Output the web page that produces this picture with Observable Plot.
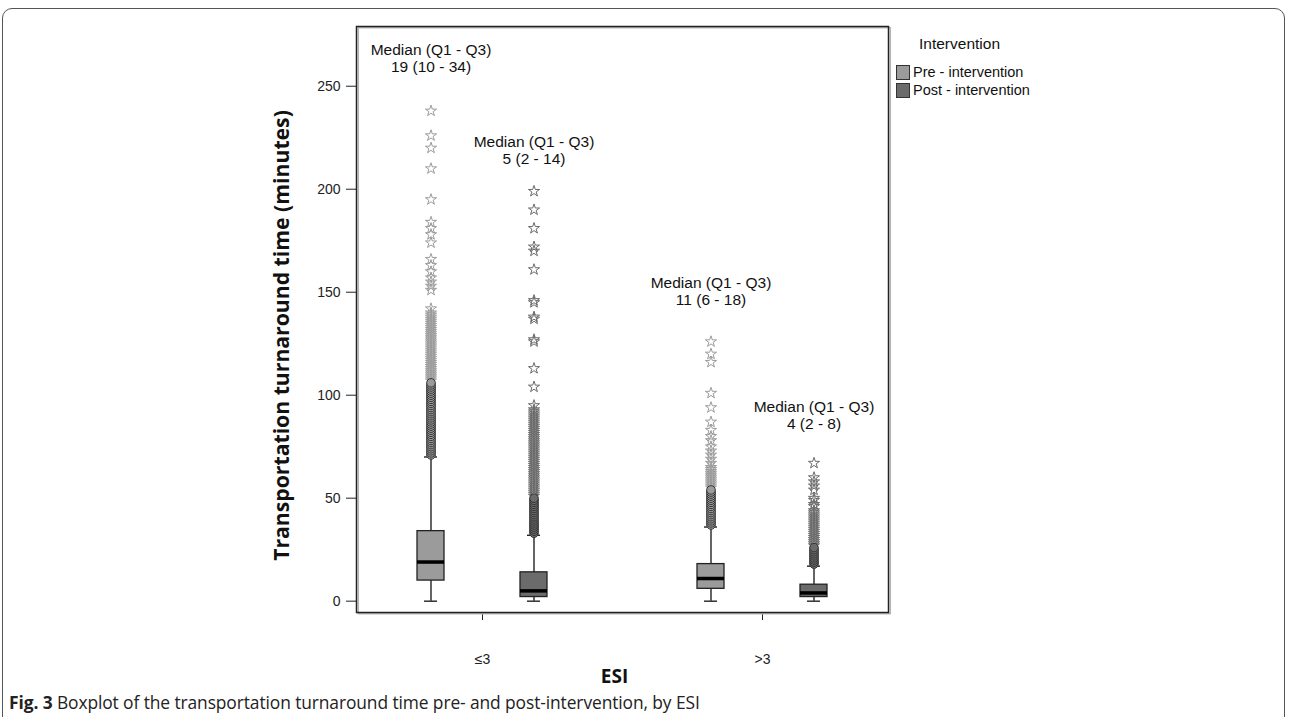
<!DOCTYPE html>
<html><head><meta charset="utf-8">
<script src="https://cdn.jsdelivr.net/npm/d3@7"></script>
<script src="https://cdn.jsdelivr.net/npm/@observablehq/plot@0.6"></script>
<style>
body{margin:0;background:#fff;width:1290px;height:717px;position:relative;overflow:hidden;font-family:"Liberation Sans",Arial,sans-serif}
#card{position:absolute;left:2px;top:8px;width:1283px;height:740px;border:1.5px solid #555;border-radius:10px;box-sizing:border-box}
#chart{position:absolute;left:0;top:0}
#legend{position:absolute;left:896px;top:35px;color:#111;font-size:14.5px;line-height:18px}
#legend .title{font-size:15.5px;margin-left:23px;margin-bottom:10px}
#legend .item{display:flex;align-items:center;height:18px}
#legend .sw{width:12px;height:13px;border:1px solid #333;margin-right:3px}
#caption{position:absolute;left:9px;top:692px;font-family:"Open Sans",sans-serif;font-size:17.4px;line-height:20px;color:#222;white-space:nowrap;letter-spacing:-0.1px}
</style></head><body>
<div id="card"></div>
<div id="chart"></div>
<div id="legend"></div>
<div id="caption"><b>Fig. 3</b> Boxplot of the transportation turnaround time pre- and post-intervention, by ESI</div>
<script>
const esiGroups = ["≤3", ">3"];
const interventions = ["Pre - intervention", "Post - intervention"];
const yTicks = [0, 50, 100, 150, 200, 250];

// box summaries, order: ≤3 Pre, ≤3 Post, >3 Pre, >3 Post
const boxEsi = ["≤3", "≤3", ">3", ">3"];
const boxGroup = ["Pre - intervention", "Post - intervention", "Pre - intervention", "Post - intervention"];
const boxLow = [0, 0, 0, 0];
const boxQ1 = [10, 2, 6, 2];
const boxMedian = [19, 5, 11, 4];
const boxQ3 = [34, 14, 18, 8];
const boxHigh = [70, 32, 36, 17];
const labelAt = [263.6, 218.9, 150.4, 90.4];

// outliers (circles) and extremes (stars)
const circlesPreLow = [71,72,73,74,75,76,77,78,79,80,81,82,83,84,85,86,87,88,89,90,91,92,93,94,95,96,97,98,99,100,101,102,103,104,105,106];
const starsPreLow = [107,108,109,110,111,112,113,114,115,116,117,118,119,120,121,122,123,124,125,126,127,128,129,130,131,132,133,134,135,136,137,138,139,140,142,151,153,155,157,160,163,166,174,178,181,184,195,210,220,226,238];
const circlesPostLow = [33,34,35,36,37,38,39,40,41,42,43,44,45,46,47,48,49,50];
const starsPostLow = [51,52,53,54,55,56,57,58,59,60,61,62,63,64,65,66,67,68,69,70,71,72,73,74,75,76,77,78,79,80,81,82,83,84,85,86,87,88,89,90,91,92,93,95,104,113,126,127,137,138,145,146,161,170,172,181,190,199];
const circlesPreHigh = [37,38,39,40,41,42,43,44,45,46,47,48,49,50,51,52,53,54];
const starsPreHigh = [55,56,57,58,59,60,61,62,63,64,65,67,69,71,73,75,78,80,83,87,94,101,116,120,126];
const circlesPostHigh = [18,19,20,21,22,23,24,25,26];
const starsPostHigh = [27,28,29,30,31,32,33,34,35,36,37,38,39,40,41,42,43,44,46,47,49,50,54,56,58,60,67];

const yTitle = "Transportation turnaround time (minutes)";
const xTitle = "ESI";
const legendTitle = "Intervention";
const boxFill = ["#9b9b9b", "#6b6b6b"];

const boxes = boxEsi.map((e, i) => ({
  esi: e, group: boxGroup[i], low: boxLow[i], q1: boxQ1[i], median: boxMedian[i], q3: boxQ3[i], high: boxHigh[i],
  label: `Median (Q1 - Q3)\n${boxMedian[i]} (${boxQ1[i]} - ${boxQ3[i]})`, labelY: labelAt[i]
}));
const circleSets = [circlesPreLow, circlesPostLow, circlesPreHigh, circlesPostHigh];
const starSets = [starsPreLow, starsPostLow, starsPreHigh, starsPostHigh];
const circles = circleSets.flatMap((arr, i) => arr.map(v => ({esi: boxEsi[i], group: boxGroup[i], value: v})));
const stars = starSets.flatMap((arr, i) => arr.map(v => ({esi: boxEsi[i], group: boxGroup[i], value: v})));

const chart = Plot.plot({
  width: 1290, height: 717,
  marginLeft: 351, marginRight: 397, marginTop: 26, marginBottom: 105,
  style: {fontFamily: "Liberation Sans, Arial, sans-serif", fontSize: "14px", color: "#222", background: "transparent", overflow: "visible"},
  fx: {domain: esiGroups, paddingInner: 0.1, paddingOuter: 0.0158, label: null, tickSize: 8, tickPadding: 34},
  x: {domain: interventions, paddingInner: 0.74, paddingOuter: 0.587, axis: null},
  y: {domain: [-5.5, 279], ticks: yTicks, tickSize: 10, tickPadding: 6, label: null},
  color: {domain: interventions, range: boxFill},
  marks: [
    Plot.frame({facet: "super", stroke: "#b5b5b5", strokeWidth: 1.5, dx: 1.8, dy: 1.2}),
    Plot.frame({facet: "super", stroke: "#222", strokeWidth: 1.5}),
    Plot.ruleX(boxes, {fx: "esi", x: "group", y1: "low", y2: "high", stroke: "#111", strokeWidth: 1.3}),
    Plot.tickY(boxes, {fx: "esi", x: "group", y: "low", insetLeft: 7, insetRight: 7, stroke: "#111", strokeWidth: 1.3}),
    Plot.tickY(boxes, {fx: "esi", x: "group", y: "high", insetLeft: 7, insetRight: 7, stroke: "#111", strokeWidth: 1.3}),
    Plot.dot(stars, {fx: "esi", x: "group", y: "value", symbol: "star", r: 3.5, stroke: "group", fill: "none", strokeWidth: 1}),
    Plot.dot(circles, {fx: "esi", x: "group", y: "value", r: 4.3, fill: "group", stroke: "#333", strokeWidth: 1}),
    Plot.barY(boxes, {fx: "esi", x: "group", y1: "q1", y2: "q3", fill: "group", stroke: "#222", strokeWidth: 1.3}),
    Plot.tickY(boxes, {fx: "esi", x: "group", y: "median", stroke: "#000", strokeWidth: 3.5}),
    Plot.text(boxes, {fx: "esi", x: "group", y: "labelY", text: "label", fontSize: 15.5, lineHeight: 1.07, fill: "#111"}),
    Plot.text([xTitle], {facet: "super", frameAnchor: "bottom", textAnchor: "middle", dx: -8, dy: 70, text: d => d, fontFamily: "Open Sans", fontWeight: "bold", fontSize: 19, fill: "#111"}),
    Plot.text([yTitle], {facet: "super", frameAnchor: "left", textAnchor: "middle", rotate: -90, dx: -74, dy: 16, text: d => d, fontFamily: "Open Sans", fontWeight: "bold", fontSize: 21.2, fill: "#111"})
  ]
});
document.getElementById("chart").appendChild(chart);

const color = chart.scale("color");
const lg = document.getElementById("legend");
lg.innerHTML = `<div class="title">${legendTitle}</div>` +
  interventions.map(g => `<div class="item"><span class="sw" style="background:${color.apply(g)}"></span>${g}</div>`).join("");
</script>
</body></html>
